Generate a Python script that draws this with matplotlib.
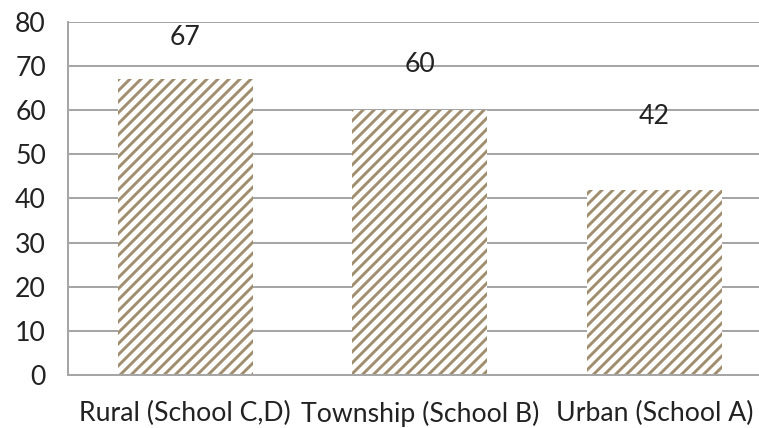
import matplotlib.pyplot as plt

categories = ["Rural (School C,D)", "Township (School B)", "Urban (School A)"]
values = [67, 60, 42]
# where Excel floated the data labels above each bar (in data units)
label_offsets = [9.4, 10.3, 16.5]
yticks = [0, 10, 20, 30, 40, 50, 60, 70, 80]

DPI = 132
plt.rcParams["font.family"] = ["Lato", "DejaVu Sans"]
plt.rcParams["hatch.linewidth"] = 1.6
plt.rcParams["hatch.color"] = "#A08E6E"

fig = plt.figure(figsize=(759 / DPI, 428 / DPI), dpi=DPI)
ax = fig.add_axes([68 / 759, 53 / 428, 703.75 / 759, 353 / 428])

x = range(len(categories))
ax.bar(x, values, width=0.576, color="white", edgecolor="#A08E6E",
       linewidth=0, hatch="////", zorder=2)

for i, v in enumerate(values):
    ax.text(i, v + label_offsets[i], str(v), ha="center", va="center",
            fontsize=14.5, color="#222222")

ax.set_xlim(-0.5, 2.5)
ax.set_ylim(0, 80)
ax.set_yticks(yticks)
ax.set_xticks(list(x))
ax.set_xticklabels(categories)
ax.tick_params(axis="both", length=0, labelsize=14.5, colors="#222222")
ax.tick_params(axis="y", pad=12)
ax.tick_params(axis="x", pad=14)
ax.grid(axis="y", color="#A6A6A6", linewidth=1.1, zorder=0)
for side in ["top", "right"]:
    ax.spines[side].set_visible(False)
for side in ["left", "bottom"]:
    ax.spines[side].set_color("#A6A6A6")
    ax.spines[side].set_linewidth(1.1)

fig.savefig("out.png", dpi=DPI)
